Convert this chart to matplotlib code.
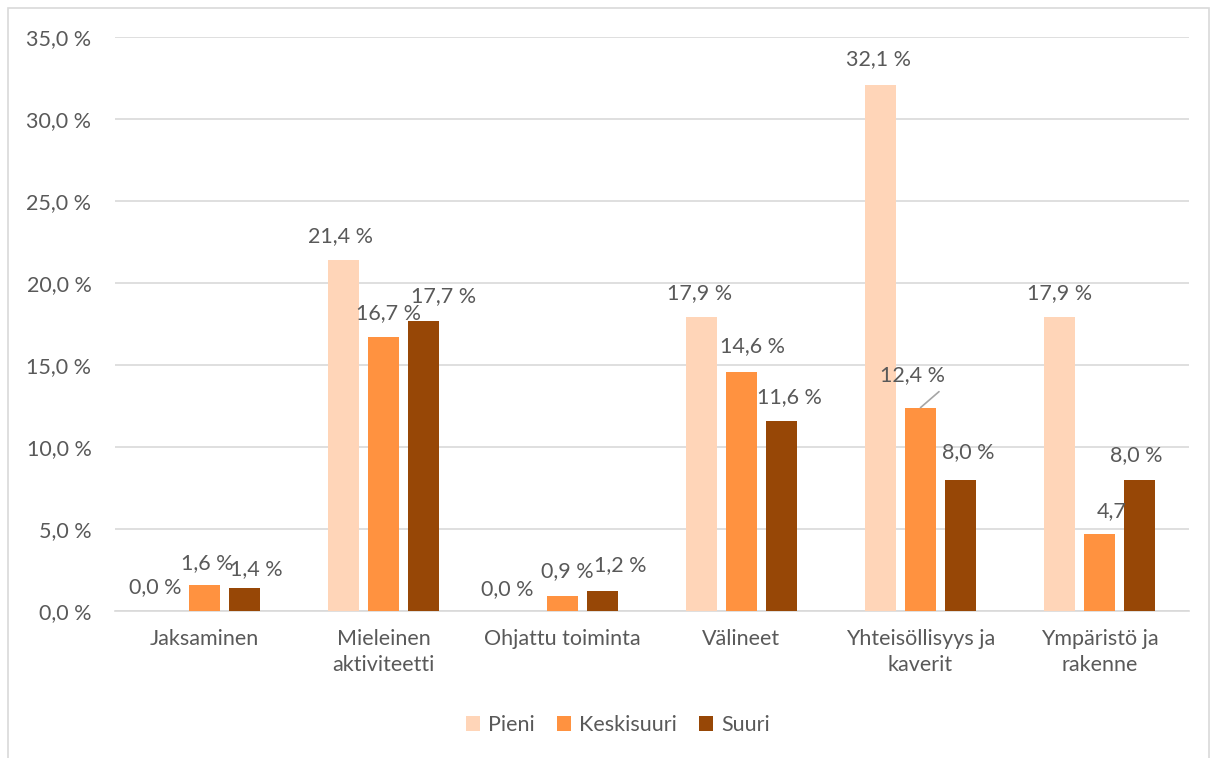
import matplotlib
matplotlib.use("Agg")
import matplotlib.pyplot as plt
from matplotlib.patches import Rectangle
import numpy as np

categories = ["Jaksaminen", "Mieleinen\naktiviteetti", "Ohjattu toiminta",
              "Välineet", "Yhteisöllisyys ja\nkaverit", "Ympäristö ja\nrakenne"]
series_names = ["Pieni", "Keskisuuri", "Suuri"]
pieni = [0.0, 21.4, 0.0, 17.9, 32.1, 17.9]
keskisuuri = [1.6, 16.7, 0.9, 14.6, 12.4, 4.7]
suuri = [1.4, 17.7, 1.2, 11.6, 8.0, 8.0]
y_ticks = [0, 5, 10, 15, 20, 25, 30, 35]

colors = ["#FFD5B8", "#FF9240", "#974706"]
text_color = "#595959"
grid_color = "#D9D9D9"
font = ["Lato", "DejaVu Sans"]
fs = 15.5

# label placement offsets in pixels (dx, dy) relative to each bar's top centre
label_dx = [
    [-9.5, -3.5, -15.5, -1.5, -2.5, 0.5],
    [2.5, 5.5, 4.5, 11.5, -8.5, 12.5],
    [11.5, 20.5, 17.5, 7.5, 7.5, -3.5],
]
label_dy = [
    [24, 24, 22, 24, 25.6, 24],
    [22, 24, 25, 25.6, 32.6, 23],
    [19, 25, 26, 24, 28, 25],
]
# labels shown without the percent sign: (series index, category index)
no_percent = {(1, 5)}
# labels with a leader line: end of the line in pixels from the bar's top centre
leader = {(1, 4): (18.5, 16)}

plt.rcParams["font.family"] = font
W, H = 1215, 758
fig = plt.figure(figsize=(W / 100, H / 100), dpi=100)
left, right, top, bottom = 115, 1189, 37, 611
ax = fig.add_axes([left / W, 1 - bottom / H, (right - left) / W, (bottom - top) / H])

x = np.arange(len(categories))
offset = 40 / 179.0
width = 31 / 179.0
values = [pieni, keskisuuri, suuri]
for i, (name, vals) in enumerate(zip(series_names, values)):
    xs = x + (i - 1) * offset
    ax.bar(xs, vals, width=width, color=colors[i], label=name, zorder=3)
    for j, v in enumerate(vals):
        txt = f"{v:.1f}".replace(".", ",")
        if (i, j) not in no_percent:
            txt += " %"
        dx = label_dx[i][j] * 0.72
        dy = label_dy[i][j] * 0.72
        ax.annotate(txt, xy=(xs[j], v), xytext=(dx, dy), textcoords="offset points",
                    ha="center", va="center", fontsize=fs, color=text_color, zorder=4)
        if (i, j) in leader:
            lx, ly = leader[(i, j)]
            ax.annotate("", xy=(xs[j], v), xytext=(lx * 0.72, ly * 0.72),
                        textcoords="offset points",
                        arrowprops=dict(arrowstyle="-", color="#A6A6A6", lw=1.2,
                                        shrinkA=0, shrinkB=0), zorder=4)

ax.set_xlim(-0.5, len(categories) - 0.5)
ax.set_ylim(0, 35)
ax.set_yticks(y_ticks)
ax.set_yticklabels([f"{t:.1f}".replace(".", ",") + " %" for t in y_ticks])
ax.set_xticks(x)
ax.set_xticklabels(categories, linespacing=1.4)
ax.tick_params(axis="both", length=0, labelsize=fs, labelcolor=text_color)
ax.tick_params(axis="y", pad=17)
ax.tick_params(axis="x", pad=13)
ax.yaxis.grid(True, color=grid_color, lw=1.2, zorder=0)
for s in ["top", "right", "left"]:
    ax.spines[s].set_visible(False)
ax.spines["bottom"].set_color(grid_color)
ax.spines["bottom"].set_linewidth(1.2)

leg = fig.legend(loc="center", bbox_to_anchor=(618 / W, 1 - 725 / H), ncol=3,
                 frameon=False, fontsize=fs, handlelength=0.65, handleheight=0.65,
                 columnspacing=1.0, handletextpad=0.4)
for t in leg.get_texts():
    t.set_color(text_color)

# chart frame
fig.patches.append(Rectangle((8 / W, -0.01), (W - 14) / W, 1 - 8 / H + 0.01,
                             transform=fig.transFigure, fill=False,
                             edgecolor="#D9D9D9", lw=1.2))

fig.savefig("out.png", dpi=100, facecolor="white")
